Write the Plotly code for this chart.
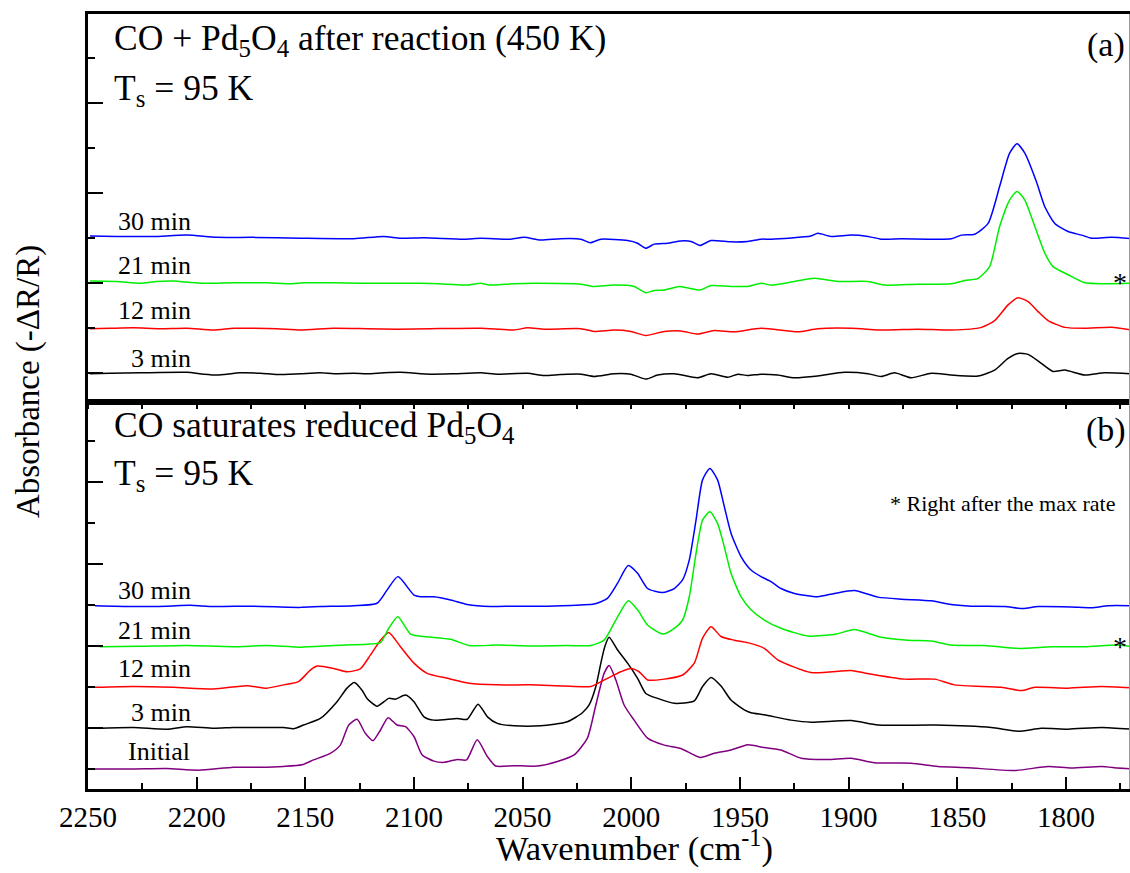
import plotly.graph_objects as go

# ---------------- data (wavenumber cm-1, absorbance in arbitrary offset units) ----------------
# Panel (a): CO + Pd5O4 after reaction (450 K)
a3_wn = [2249.1, 2239.9, 2226.0, 2204.5, 2196.9, 2190.7, 2180.0, 2170.7, 2163.0, 2152.3, 2143.0, 2136.9,
         2127.7, 2121.6, 2113.9, 2106.2, 2092.4, 2081.6, 2069.3, 2061.6, 2047.8, 2040.1, 2032.5, 2023.2,
         2017.1, 2007.9, 2000.2, 1993.3, 1987.9, 1980.2, 1969.5, 1963.3, 1955.6, 1951.0, 1946.4, 1940.3,
         1932.6, 1924.9, 1914.2, 1901.9, 1891.1, 1885.0, 1878.8, 1871.2, 1861.9, 1852.7, 1840.4, 1832.8,
         1826.6, 1822.0, 1817.4, 1811.3, 1805.9, 1800.5, 1791.3, 1782.1, 1769.8]
a3_val = [-0.01, 0.00, 0.01, 0.02, -0.02, -0.04, 0.01, 0.00, -0.03, -0.01, 0.01, -0.01,
          0.00, -0.01, 0.01, 0.02, -0.02, -0.01, 0.01, -0.02, 0.00, -0.05, -0.03, -0.02,
          -0.07, -0.01, -0.02, -0.13, -0.04, -0.01, -0.10, -0.01, -0.09, -0.02, -0.05, -0.02,
          -0.04, -0.10, -0.06, 0.02, -0.01, -0.07, 0.01, -0.10, 0.00, -0.04, -0.06, 0.07,
          0.33, 0.44, 0.42, 0.22, 0.04, 0.07, -0.04, 0.01, -0.01]

a12_wn = [2249.1, 2239.9, 2229.1, 2216.8, 2204.5, 2192.2, 2183.0, 2173.8, 2163.0, 2152.3, 2136.9, 2121.6,
          2107.7, 2092.4, 2069.3, 2054.0, 2047.8, 2040.1, 2023.2, 2017.1, 2007.9, 2000.2, 1993.3, 1984.8,
          1977.2, 1969.5, 1961.8, 1952.6, 1940.3, 1923.4, 1914.2, 1898.8, 1883.5, 1868.1, 1852.7, 1838.9,
          1832.8, 1826.6, 1822.0, 1817.4, 1812.8, 1808.2, 1800.5, 1791.3, 1779.0, 1769.8]
a12_val = [0.99, 1.00, 1.01, 0.99, 1.00, 0.96, 1.00, 1.00, 0.99, 0.96, 1.00, 0.99,
           0.98, 0.99, 1.00, 0.96, 1.01, 0.98, 0.99, 0.93, 0.96, 0.93, 0.84, 0.93,
           0.94, 0.87, 0.95, 0.92, 1.00, 0.92, 0.99, 1.00, 0.96, 0.98, 0.96, 1.02,
           1.17, 1.52, 1.68, 1.59, 1.37, 1.17, 1.02, 1.00, 1.02, 0.96]

a21_wn = [2249.1, 2236.8, 2226.0, 2218.4, 2210.7, 2198.4, 2183.0, 2167.7, 2156.9, 2150.8, 2136.9, 2124.7,
          2113.9, 2097.0, 2084.7, 2075.5, 2069.3, 2064.7, 2054.0, 2044.7, 2023.2, 2017.9, 2007.9, 1998.7,
          1993.3, 1989.4, 1984.8, 1977.9, 1973.3, 1968.4, 1963.3, 1954.1, 1946.4, 1940.3, 1935.7, 1924.9,
          1915.7, 1905.0, 1891.1, 1883.5, 1868.1, 1852.7, 1846.6, 1840.4, 1835.1, 1830.5, 1825.9, 1822.5,
          1818.9, 1814.3, 1809.7, 1805.9, 1799.0, 1791.3, 1782.1, 1769.8]
a21_val = [2.05, 2.04, 2.00, 2.04, 2.05, 2.00, 2.01, 2.01, 1.99, 2.01, 2.01, 2.00,
           2.00, 2.00, 1.98, 1.96, 2.00, 1.96, 1.99, 2.00, 1.98, 1.93, 1.96, 1.93,
           1.79, 1.84, 1.85, 1.93, 1.89, 1.85, 1.95, 1.93, 1.93, 2.00, 1.96, 2.04,
           2.11, 2.04, 2.04, 1.96, 1.98, 1.99, 2.06, 2.11, 2.37, 3.26, 3.85, 4.04,
           3.85, 3.26, 2.67, 2.37, 2.19, 2.01, 1.99, 2.00]

a30_wn = [2249.1, 2236.8, 2219.9, 2204.5, 2190.7, 2173.8, 2152.3, 2127.7, 2113.9, 2106.2, 2095.4, 2077.0,
          2069.3, 2055.5, 2049.3, 2041.7, 2032.5, 2023.2, 2018.9, 2014.0, 2001.7, 1997.1, 1993.3, 1989.4,
          1983.3, 1977.2, 1972.5, 1968.4, 1963.3, 1954.1, 1946.4, 1940.3, 1935.7, 1917.3, 1914.2, 1908.0,
          1898.8, 1891.1, 1885.0, 1875.8, 1852.7, 1848.1, 1842.0, 1835.8, 1830.5, 1825.9, 1822.5, 1818.9,
          1813.6, 1809.7, 1805.1, 1799.0, 1792.8, 1788.2, 1779.0, 1769.8]
a30_val = [3.05, 3.04, 3.04, 3.07, 3.02, 3.02, 3.00, 2.99, 3.04, 3.00, 3.01, 2.98,
           3.00, 2.98, 3.02, 2.96, 2.99, 2.98, 2.90, 2.98, 2.95, 2.89, 2.78, 2.87,
           2.89, 2.94, 2.93, 2.84, 2.95, 2.92, 2.93, 2.98, 2.98, 3.05, 3.11, 3.04,
           3.07, 3.04, 2.98, 2.99, 2.99, 3.07, 3.09, 3.33, 4.15, 4.89, 5.10, 4.89,
           4.26, 3.70, 3.33, 3.15, 3.07, 3.00, 3.02, 2.99]

# Panel (b): CO saturates reduced Pd5O4
bi_wn = [2246.8, 2229.1, 2213.7, 2199.2, 2183.0, 2170.7, 2160.0, 2151.5, 2146.2, 2138.5, 2133.9, 2130.0,
         2126.2, 2122.4, 2118.8, 2115.4, 2111.9, 2107.8, 2103.9, 2100.0, 2096.2, 2090.8, 2086.2, 2080.1,
         2075.8, 2070.9, 2066.2, 2062.4, 2054.0, 2043.2, 2034.0, 2026.3, 2020.2, 2016.3, 2012.5, 2010.2,
         2007.1, 2003.3, 1998.7, 1992.5, 1984.8, 1977.2, 1968.3, 1961.8, 1954.1, 1946.4, 1938.8, 1931.1,
         1921.9, 1909.6, 1898.8, 1888.1, 1871.2, 1858.9, 1845.1, 1823.6, 1808.2, 1797.5, 1783.6, 1776.0,
         1770.0]
bi_val = [-0.99, -0.99, -0.98, -1.02, -0.95, -0.95, -0.93, -0.89, -0.77, -0.61, -0.41, 0.08,
          0.22, -0.12, -0.30, -0.04, 0.26, 0.08, 0.04, -0.20, -0.65, -0.80, -0.83, -0.76,
          -0.77, -0.28, -0.69, -0.92, -0.91, -0.92, -0.81, -0.65, -0.24, 0.57, 1.34, 1.53,
          1.18, 0.57, 0.20, -0.24, -0.41, -0.49, -0.71, -0.61, -0.53, -0.40, -0.47, -0.53,
          -0.73, -0.76, -0.73, -0.84, -0.85, -0.93, -0.96, -1.03, -0.93, -0.97, -0.93, -0.97,
          -0.99]

b3_wn = [2246.8, 2229.1, 2213.7, 2204.5, 2192.2, 2183.0, 2170.7, 2160.0, 2155.4, 2150.8, 2143.1, 2135.4,
         2130.8, 2127.4, 2123.9, 2121.6, 2117.0, 2111.6, 2108.5, 2103.9, 2100.0, 2095.4, 2090.8, 2080.1,
         2075.5, 2070.5, 2066.2, 2061.6, 2053.9, 2041.7, 2029.4, 2022.5, 2019.4, 2016.3, 2014.0, 2012.2,
         2010.2, 2006.3, 2001.7, 1997.1, 1993.3, 1987.9, 1980.2, 1971.0, 1967.2, 1963.3, 1958.7, 1954.1,
         1948.0, 1944.9, 1938.8, 1926.5, 1917.3, 1898.8, 1886.5, 1860.4, 1834.3, 1822.0, 1811.3, 1799.0,
         1783.6, 1770.0]
b3_val = [0.00, 0.02, -0.02, 0.04, 0.00, 0.02, 0.02, 0.02, -0.01, 0.08, 0.24, 0.65,
          0.98, 1.12, 0.93, 0.73, 0.54, 0.73, 0.71, 0.81, 0.65, 0.28, 0.20, 0.24,
          0.22, 0.59, 0.28, 0.12, 0.06, 0.06, 0.16, 0.38, 0.57, 1.02, 1.59, 1.99,
          2.22, 1.91, 1.59, 1.22, 0.85, 0.73, 0.61, 0.67, 1.02, 1.24, 1.03, 0.69,
          0.45, 0.38, 0.33, 0.20, 0.15, 0.19, 0.08, 0.08, 0.02, -0.07, 0.00, -0.02,
          0.02, -0.02]

b12_wn = [2246.8, 2229.1, 2210.7, 2192.2, 2176.9, 2167.7, 2160.0, 2153.1, 2147.7, 2144.6, 2136.9, 2130.8,
          2124.7, 2120.0, 2115.4, 2111.6, 2106.2, 2100.0, 2093.9, 2084.7, 2074.7, 2061.6, 2046.3, 2030.9,
          2018.6, 2011.0, 2004.8, 2000.2, 1996.4, 1992.5, 1984.8, 1976.4, 1971.0, 1967.2, 1963.3, 1958.7,
          1952.6, 1946.4, 1938.8, 1932.6, 1917.3, 1898.8, 1892.7, 1874.2, 1860.4, 1851.2, 1829.7, 1820.5,
          1814.3, 1799.0, 1783.6, 1770.0]
b12_val = [1.00, 1.02, 1.00, 0.96, 1.04, 0.98, 1.06, 1.14, 1.42, 1.52, 1.46, 1.38,
           1.45, 1.79, 2.15, 2.34, 1.99, 1.59, 1.34, 1.22, 1.10, 1.06, 1.06, 1.03,
           1.02, 1.22, 1.38, 1.46, 1.38, 1.18, 1.20, 1.30, 1.59, 2.20, 2.48, 2.24,
           2.15, 2.09, 1.95, 1.67, 1.36, 1.41, 1.35, 1.20, 1.20, 1.06, 1.00, 0.92,
           1.00, 0.98, 1.02, 0.99]

b21_wn = [2244.5, 2226.0, 2204.5, 2183.0, 2167.7, 2152.3, 2136.9, 2121.6, 2115.4, 2111.6, 2107.4, 2101.6,
          2095.4, 2083.1, 2074.7, 2061.6, 2046.3, 2029.4, 2018.6, 2012.5, 2006.3, 2001.4, 1997.1, 1992.5,
          1985.6, 1980.2, 1976.5, 1973.3, 1970.2, 1967.2, 1963.8, 1960.3, 1957.2, 1954.1, 1949.5, 1944.9,
          1938.8, 1931.1, 1918.8, 1905.7, 1897.3, 1885.0, 1872.7, 1861.9, 1852.7, 1837.4, 1822.0, 1806.6,
          1791.3, 1776.0, 1770.0]
b21_val = [1.99, 2.00, 2.02, 1.99, 2.02, 1.98, 2.02, 2.05, 2.09, 2.44, 2.72, 2.30,
           2.24, 2.17, 2.02, 2.03, 2.01, 2.02, 2.02, 2.15, 2.72, 3.11, 2.89, 2.52,
           2.30, 2.44, 2.63, 3.21, 4.27, 5.08, 5.28, 5.00, 4.43, 3.78, 3.21, 2.89,
           2.64, 2.44, 2.25, 2.30, 2.41, 2.22, 2.15, 2.13, 2.03, 2.02, 1.95, 1.99,
           1.99, 2.03, 1.99]

b30_wn = [2246.8, 2229.1, 2213.7, 2203.0, 2192.2, 2173.8, 2152.3, 2143.1, 2127.7, 2117.0, 2112.4, 2107.4,
          2100.0, 2097.0, 2090.8, 2083.1, 2075.5, 2064.7, 2054.0, 2038.6, 2023.2, 2017.1, 2011.0, 2006.3,
          2001.4, 1997.1, 1992.5, 1985.6, 1980.2, 1976.4, 1973.3, 1970.2, 1967.2, 1963.8, 1960.3, 1957.2,
          1954.1, 1949.5, 1944.9, 1940.3, 1935.7, 1931.1, 1924.9, 1914.2, 1906.5, 1897.3, 1886.5, 1875.8,
          1861.9, 1854.3, 1843.5, 1828.2, 1819.7, 1812.8, 1797.5, 1788.2, 1780.5, 1770.0]
b30_val = [2.99, 2.97, 2.98, 3.00, 2.97, 2.98, 2.95, 2.97, 2.99, 3.05, 3.37, 3.70,
           3.25, 3.21, 3.21, 3.13, 3.02, 2.97, 2.98, 2.98, 3.01, 3.03, 3.17, 3.54,
           3.97, 3.78, 3.41, 3.31, 3.41, 3.62, 4.11, 5.08, 6.06, 6.34, 6.06, 5.41,
           4.76, 4.19, 3.86, 3.70, 3.58, 3.41, 3.29, 3.21, 3.29, 3.36, 3.20, 3.15,
           3.11, 3.03, 2.98, 2.97, 2.92, 2.97, 2.96, 2.94, 2.99, 2.99]

series_a = [("3 min", a3_wn, a3_val, "#000000"), ("12 min", a12_wn, a12_val, "#ff0000"),
            ("21 min", a21_wn, a21_val, "#00ee00"), ("30 min", a30_wn, a30_val, "#0000ff")]
series_b = [("Initial", bi_wn, bi_val, "#800080"), ("3 min", b3_wn, b3_val, "#000000"),
            ("12 min", b12_wn, b12_val, "#ff0000"), ("21 min", b21_wn, b21_val, "#00ee00"),
            ("30 min", b30_wn, b30_val, "#0000ff")]

x_ticks = [2250, 2200, 2150, 2100, 2050, 2000, 1950, 1900, 1850, 1800]

# ---------------- layout geometry (pixels) ----------------
W, H = 1130, 873
L, R, T, B = 88, 0, 14, 84
PLOT_W = W - L - R
PLOT_H = H - T - B
SPLIT = 0.4994

def px(xp):
    return (xp - L) / PLOT_W

def py(yp):
    return (H - B - yp) / PLOT_H

SERIF = "Liberation Serif, Times New Roman, serif"

fig = go.Figure()
for name, wn, val, col in series_a:
    fig.add_trace(go.Scatter(x=wn, y=val, mode="lines", name=name, xaxis="x2", yaxis="y2",
                             line=dict(color=col, width=1.5, shape="spline", smoothing=0.6),
                             showlegend=False, hoverinfo="skip"))
for name, wn, val, col in series_b:
    fig.add_trace(go.Scatter(x=wn, y=val, mode="lines", name=name, xaxis="x", yaxis="y",
                             line=dict(color=col, width=1.5, shape="spline", smoothing=0.6),
                             showlegend=False, hoverinfo="skip"))

axis_common = dict(showgrid=False, zeroline=False, showline=True, linecolor="black", linewidth=2.5)

fig.update_layout(
    width=W, height=H,
    margin=dict(l=L, r=R, t=T, b=B),
    paper_bgcolor="white", plot_bgcolor="white",
    font=dict(family=SERIF, color="black"),
    xaxis=dict(**axis_common, domain=[0, 1], anchor="y", range=[2250, 1770.5], mirror=True,
               ticks="inside", ticklen=12, tickwidth=2, tickcolor="black",
               tickvals=x_ticks, ticktext=[str(v) for v in x_ticks],
               tickfont=dict(family=SERIF, size=29, color="black"), ticklabelstandoff=0,
               minor=dict(ticks="inside", ticklen=6, tickwidth=2, tickcolor="black", dtick=25)),
    yaxis=dict(**axis_common, domain=[0, SPLIT], anchor="x", range=[-1.48, 7.96],
               ticks="inside", ticklen=15, tickwidth=2, tickcolor="black",
               tick0=0, dtick=2, showticklabels=False,
               minor=dict(ticks="inside", ticklen=7, tickwidth=2, tickcolor="black", dtick=1)),
    xaxis2=dict(**axis_common, domain=[0, 1], anchor="y2", range=[2250, 1770.5], mirror=True,
                matches="x", ticks="outside", ticklen=4, tickwidth=1.5, tickcolor="black",
                tick0=2250, dtick=25, showticklabels=False),
    yaxis2=dict(**axis_common, domain=[SPLIT, 1], anchor="x2", range=[-0.638, 7.984],
                ticks="inside", ticklen=15, tickwidth=2, tickcolor="black",
                tick0=0, dtick=2, showticklabels=False,
                minor=dict(ticks="inside", ticklen=7, tickwidth=2, tickcolor="black", dtick=1)),
)

# right frame edge (cut at picture border)
fig.add_shape(type="line", xref="paper", yref="paper", x0=px(1129.5), x1=px(1129.5), y0=0, y1=1,
              line=dict(color="#999999", width=1))

def note(text, xp, yp, size, xanchor="left", yanchor="middle", angle=0):
    fig.add_annotation(text=text, x=px(xp), y=py(yp), xref="paper", yref="paper",
                       xanchor=xanchor, yanchor=yanchor, showarrow=False, textangle=angle,
                       font=dict(family=SERIF, size=size, color="black"))

# panel titles
note("CO + Pd<sub>5</sub>O<sub>4</sub> after reaction (450 K)", 112, 40, 35.5)
note("T<sub>s</sub> = 95 K", 112, 90, 35.5)
note("(a)", 1127, 45, 34, xanchor="right")
note("CO saturates reduced Pd<sub>5</sub>O<sub>4</sub>", 112, 427, 35.5)
note("T<sub>s</sub> = 95 K", 112, 475, 35.5)
note("(b)", 1128, 430, 34, xanchor="right")
note("* Right after the max rate", 1117, 503, 22, xanchor="right")

# curve labels
labels_a = [("30 min", 116, 221), ("21 min", 116, 265), ("12 min", 116, 310), ("3 min", 129, 358)]
labels_b = [("30 min", 116, 590), ("21 min", 116, 630), ("12 min", 116, 668), ("3 min", 129, 712),
            ("Initial", 126, 751)]
for t, xp, yp in labels_a + labels_b:
    note(t, xp, yp, 26)

# asterisks marking the curve right after max rate
note("*", 1120, 283, 28, xanchor="center")
note("*", 1120, 646, 28, xanchor="center")

# axis titles
note("Wavenumber (cm<sup>-1</sup>)", 634, 846, 34.5, xanchor="center")
note("Absorbance (-ΔR/R)", 28, 382, 33, xanchor="center", angle=-90)

fig.write_html("out.html", config={"displayModeBar": False},
               post_script="document.body.style.margin='0';document.body.style.overflow='hidden';")
